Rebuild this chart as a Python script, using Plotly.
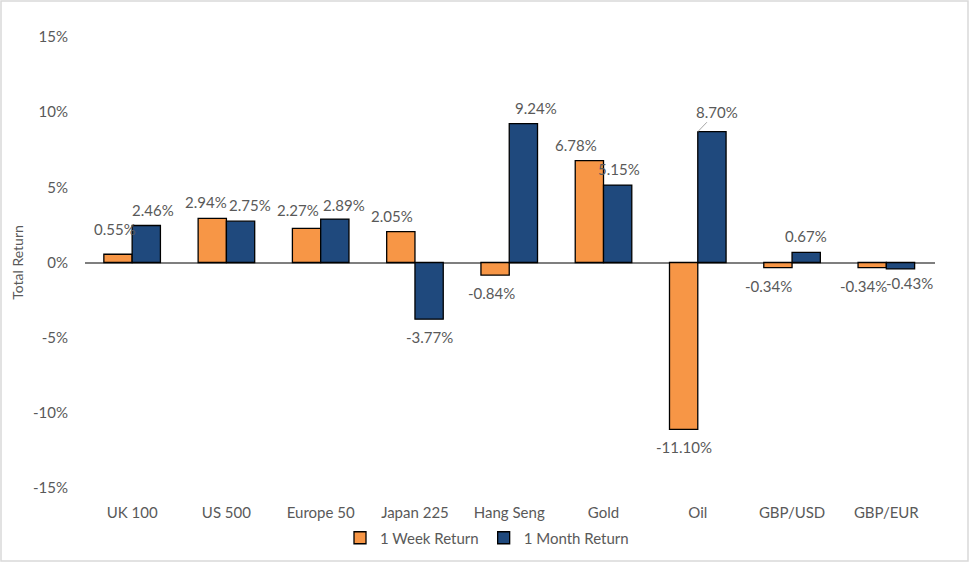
import plotly.graph_objects as go

categories = ['UK 100', 'US 500', 'Europe 50', 'Japan 225', 'Hang Seng',
              'Gold', 'Oil', 'GBP/USD', 'GBP/EUR']
week_return = [0.55, 2.94, 2.27, 2.05, -0.84, 6.78, -11.10, -0.34, -0.34]
month_return = [2.46, 2.75, 2.89, -3.77, 9.24, 5.15, 8.70, 0.67, -0.43]
y_ticks = [-15, -10, -5, 0, 5, 10, 15]

# label nudges (px) the way Excel pushed overlapping labels apart
week_dx = [-3, -6, -9, -9, -4, -13, 0, -9, -9]
week_dy = [9, 0, 2, 0, 0, 0, 0, 0, 0]
month_dx = [7, 9, 9, 0, 13, 1, 5, 0, 9]
month_dy = [0, 0, -2, 0, 0, 0, 4, 0, -4]

FONT = 'Lato'
GREY = '#595959'
W, H = 972, 564
ML, MR, MT, MB = 85, 37, 37, 76
BARGAP = 0.4

pw, ph = W - ML - MR, H - MT - MB
bar_off = pw / len(categories) * (1 - BARGAP) / 4

fig = go.Figure()
series = [('1 Week Return', week_return, '#F79646', -bar_off, week_dx, week_dy),
          ('1 Month Return', month_return, '#1F497D', bar_off, month_dx, month_dy)]

for name, vals, color, off, dxs, dys in series:
    fig.add_trace(go.Bar(
        x=categories, y=vals, name=name,
        marker=dict(color=color, line=dict(color='black', width=1.3)),
    ))
    for cat, v, dx, dy in zip(categories, vals, dxs, dys):
        base = 16 if v >= 0 else -18
        shift = base + (dy if v >= 0 else -dy)
        leader = name == '1 Month Return' and cat == 'Oil'
        fig.add_annotation(
            x=cat, y=v, text=f'{v:.2f}%',
            showarrow=leader, arrowhead=0, arrowwidth=1, arrowcolor='#A6A6A6',
            ax=off + dx, ay=-shift, xshift=0 if leader else off + dx,
            yshift=0 if leader else shift,
            font=dict(family=FONT, size=15, color=GREY),
        )

# outline round the whole chart
fig.add_shape(type='rect', xref='paper', yref='paper',
              x0=-(ML - 1) / pw, x1=1 + (MR - 4) / pw,
              y0=-(MB - 3) / ph, y1=1 + (MT - 1) / ph,
              line=dict(color='#D9D9D9', width=1.5))

fig.update_layout(
    width=W, height=H,
    margin=dict(l=ML, r=MR, t=MT, b=MB, autoexpand=False),
    paper_bgcolor='white', plot_bgcolor='white',
    barmode='group', bargap=BARGAP, bargroupgap=0,
    font=dict(family=FONT, size=14, color=GREY),
    showlegend=True,
    legend=dict(orientation='h', x=(487 - ML) / pw, xanchor='center',
                y=-(538 - (H - MB)) / ph, yanchor='middle',
                bgcolor='rgba(0,0,0,0)',
                font=dict(family=FONT, size=15, color=GREY),
                traceorder='normal'),
    xaxis=dict(showline=False, ticks='', showgrid=False, ticklabelstandoff=14,
               tickfont=dict(family=FONT, size=15, color=GREY)),
    yaxis=dict(range=[-15, 15], tickvals=y_ticks,
               ticktext=[f'{v}%' for v in y_ticks],
               showgrid=False, zeroline=True, zerolinecolor='#7F7F7F',
               zerolinewidth=1.5, showline=False, ticks='', ticklabelstandoff=16,
               tickfont=dict(family=FONT, size=15, color=GREY),
               title=dict(text='Total Return', standoff=6,
                          font=dict(family=FONT, size=14, color=GREY))),
)

# drop the page's default body margin so the chart sits at the window corner
fig.write_html('out.html', config={'displayModeBar': False},
               post_script="document.body.style.margin='0';")
